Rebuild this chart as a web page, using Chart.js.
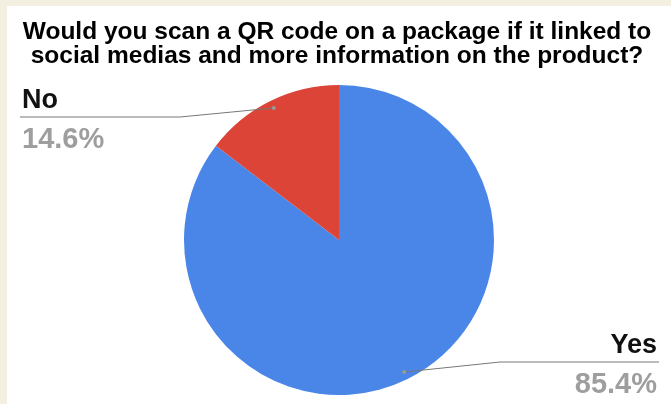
<!DOCTYPE html>
<html>
<head>
<meta charset="utf-8">
<script src="https://cdn.jsdelivr.net/npm/chart.js@4"></script>
<style>
  html, body { margin: 0; padding: 0; background: #f4f0e1; }
  #wrap { position: absolute; left: 7px; top: 6px; width: 664px; height: 398px; background: #fff; }
</style>
</head>
<body>
<div id="wrap"><canvas id="pieChart"></canvas></div>
<script>
// Survey answers
const answers = ['Yes', 'No'];
const shares = [85.4, 14.6];
const sliceColors = ['#4a86e8', '#db4437'];
const titleLines = [
    'Would you scan a QR code on a package if it linked to',
    'social medias and more information on the product?'
];

// Title drawn by hand so the two lines sit tight
const titlePlugin = {
    id: 'titleLines',
    afterDraw(chart) {
        const c = chart.ctx;
        c.save();
        c.fillStyle = '#000';
        c.font = 'bold 24.5px "Liberation Sans", Arial, sans-serif';
        c.textAlign = 'center';
        c.textBaseline = 'alphabetic';
        c.fillText(titleLines[0], chart.width / 2 - 2, 33);
        c.fillText(titleLines[1], chart.width / 2 - 2, 57);
        c.restore();
    }
};

// Leader lines + labels like the Sheets pie
const calloutPlugin = {
    id: 'callouts',
    afterDraw(chart) {
        const c = chart.ctx;
        const arcs = chart.getDatasetMeta(0).data;
        c.save();
        arcs.forEach((arc, i) => {
            const mid = (arc.startAngle + arc.endAngle) / 2;
            const px = arc.x + Math.cos(mid) * arc.outerRadius * 0.95;
            const py = arc.y + Math.sin(mid) * arc.outerRadius * 0.95;
            const left = px < arc.x;
            const lineY = left ? 111 : 356;
            const elbowX = left ? 173 : 493;
            const endX = left ? 13 : 652;

            c.strokeStyle = '#777';
            c.lineWidth = 1;
            c.beginPath();
            c.moveTo(px, py);
            c.lineTo(elbowX, lineY);
            c.lineTo(endX, lineY);
            c.stroke();

            c.fillStyle = '#999';
            c.beginPath();
            c.arc(px, py, 2, 0, Math.PI * 2);
            c.fill();

            const tx = left ? 15 : 650;
            c.textAlign = left ? 'left' : 'right';
            c.fillStyle = '#111';
            c.font = 'bold 27px "Liberation Sans", Arial, sans-serif';
            c.fillText(answers[i], tx, lineY - 9);
            c.fillStyle = '#9e9e9e';
            c.font = 'bold 29px "Liberation Sans", Arial, sans-serif';
            c.fillText(shares[i].toFixed(1) + '%', tx, lineY + 31);
        });
        c.restore();
    }
};

document.addEventListener('DOMContentLoaded', function() {
    const ctx = document.getElementById('pieChart').getContext('2d');
    new Chart(ctx, {
        type: 'pie',
        data: {
            labels: answers,
            datasets: [{
                data: shares,
                backgroundColor: sliceColors,
                borderWidth: 0
            }]
        },
        options: {
            responsive: true,
            maintainAspectRatio: false,
            animation: false,
            layout: {
                padding: { top: 79, bottom: 9, left: 0, right: 0 }
            },
            plugins: {
                legend: { display: false },
                title: { display: false },
                tooltip: { enabled: false }
            }
        },
        plugins: [titlePlugin, calloutPlugin]
    });
});
</script>
</body>
</html>
